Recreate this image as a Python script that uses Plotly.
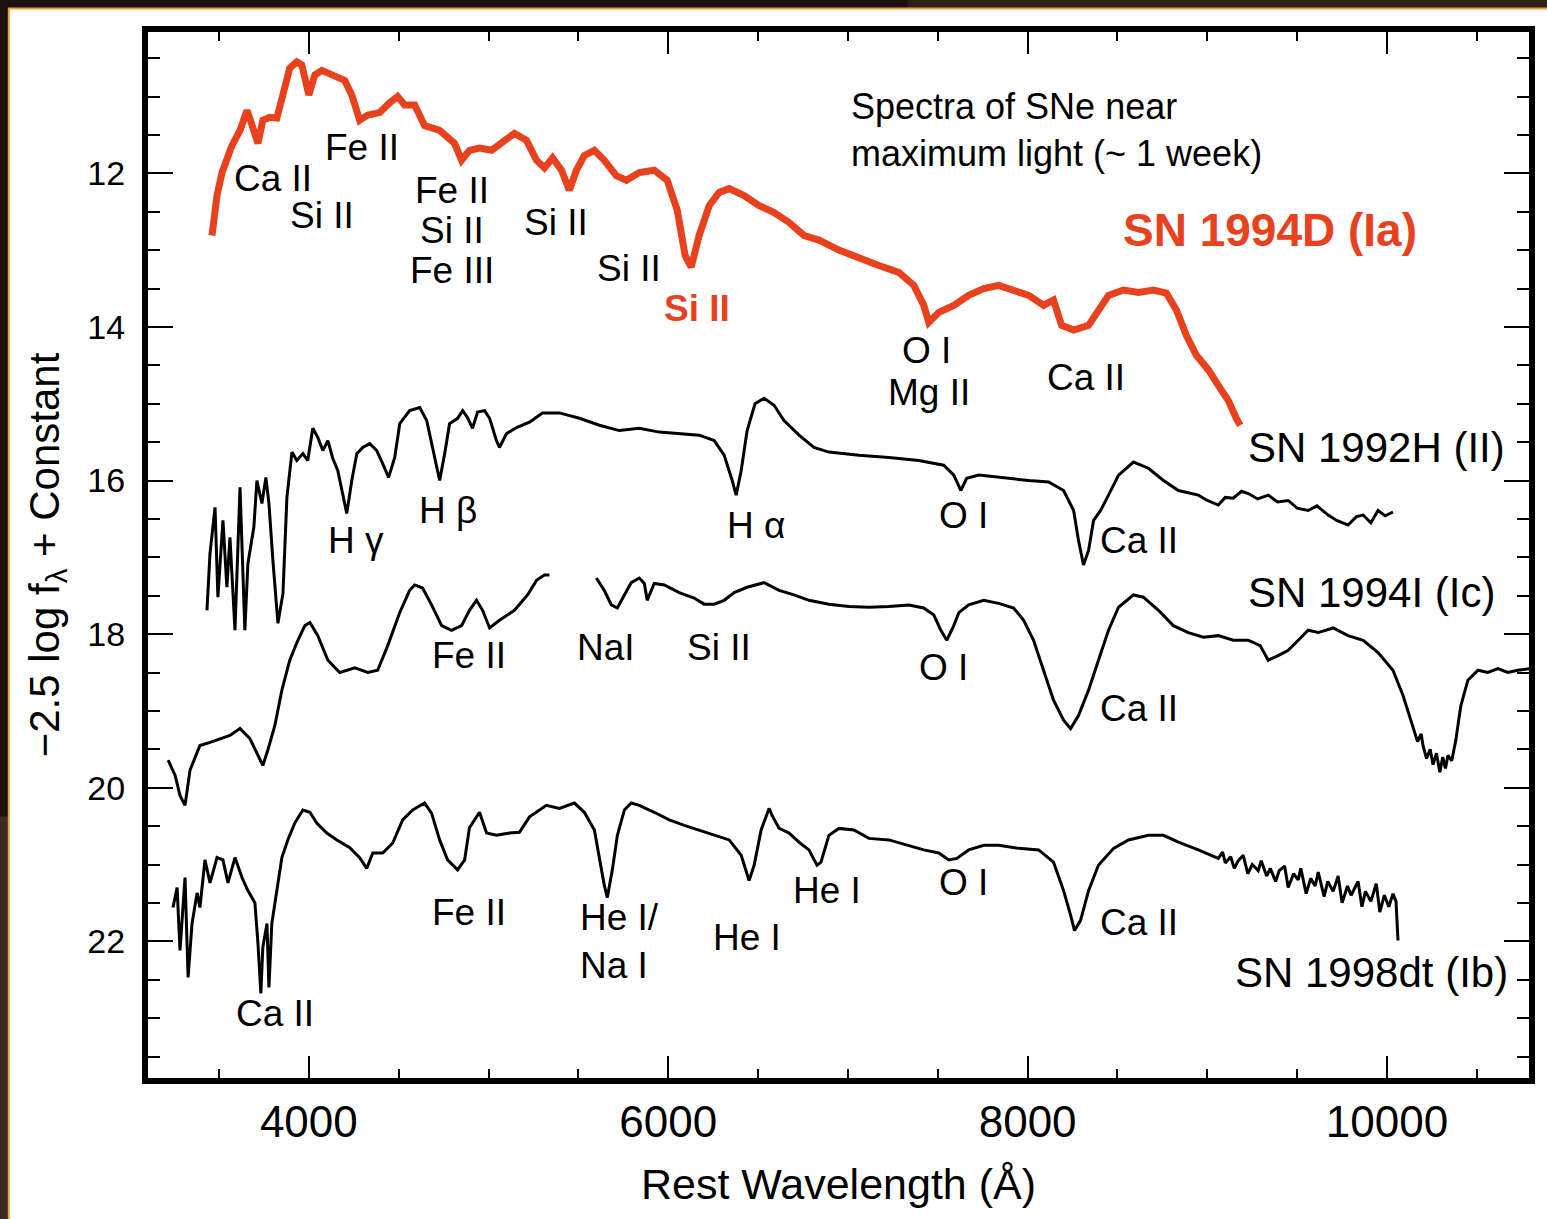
import plotly.graph_objects as go

# ---------------- data (wavelength in Angstrom, -2.5 log f + const) ----------------
ia_wave = [3461, 3489, 3517, 3572, 3617, 3656, 3689, 3717, 3744, 3783, 3822, 3856, 3894, 3933, 3961,
           4000, 4033, 4072, 4144, 4200, 4239, 4283, 4328, 4394, 4450, 4494, 4533, 4589, 4644, 4728,
           4811, 4850, 4894, 4950, 5017, 5089, 5144, 5211, 5267, 5311, 5356, 5406, 5450, 5489, 5533,
           5589, 5644, 5711, 5767, 5839, 5922, 5994, 6050, 6094, 6128, 6172, 6228, 6283, 6339, 6422,
           6506, 6589, 6672, 6756, 6839, 6950, 7061, 7172, 7283, 7367, 7422, 7450, 7506, 7589, 7672,
           7756, 7839, 7922, 8006, 8089, 8144, 8189, 8256, 8339, 8394, 8450, 8533, 8617, 8700, 8772,
           8828, 8883, 8939, 9006, 9061, 9117, 9161, 9183]
ia_mag = [12.81, 12.29, 11.99, 11.64, 11.44, 11.18, 11.41, 11.61, 11.31, 11.27, 11.28, 10.98, 10.63, 10.55, 10.59,
          10.98, 10.72, 10.66, 10.72, 10.79, 10.98, 11.31, 11.24, 11.21, 11.08, 11.00, 11.11, 11.11, 11.38, 11.44,
          11.61, 11.83, 11.70, 11.67, 11.70, 11.57, 11.48, 11.57, 11.83, 11.93, 11.80, 11.96, 12.22, 11.96, 11.77,
          11.70, 11.83, 12.03, 12.09, 11.99, 11.96, 12.09, 12.48, 13.07, 13.22, 12.81, 12.42, 12.25, 12.20, 12.29,
          12.42, 12.51, 12.64, 12.81, 12.87, 13.00, 13.11, 13.20, 13.29, 13.46, 13.72, 13.94, 13.81, 13.72, 13.59,
          13.50, 13.46, 13.52, 13.59, 13.72, 13.65, 13.98, 14.04, 13.98, 13.78, 13.59, 13.52, 13.55, 13.52, 13.56,
          13.78, 14.11, 14.37, 14.56, 14.76, 14.96, 15.19, 15.28]

ii_wave = [3433, 3450, 3478, 3494, 3522, 3544, 3561, 3589, 3617, 3644, 3661, 3694, 3711, 3739, 3761,
           3778, 3800, 3828, 3856, 3878, 3906, 3933, 3967, 3994, 4022, 4050, 4078, 4106, 4133, 4161,
           4211, 4239, 4267, 4300, 4339, 4378, 4411, 4444, 4478, 4506, 4561, 4617, 4656, 4689, 4728,
           4756, 4783, 4828, 4856, 4883, 4911, 4939, 4978, 5006, 5044, 5061, 5100, 5156, 5228, 5300,
           5394, 5506, 5617, 5728, 5839, 5950, 6061, 6172, 6256, 6311, 6356, 6378, 6406, 6439, 6483,
           6533, 6589, 6644, 6728, 6811, 6894, 7061, 7228, 7394, 7533, 7589, 7628, 7661, 7728, 7839,
           8006, 8117, 8200, 8256, 8283, 8311, 8339, 8367, 8406, 8450, 8506, 8589, 8672, 8756, 8839,
           8950, 9000, 9061, 9100, 9144, 9190, 9228, 9280, 9339, 9390, 9450, 9500, 9561, 9610, 9672,
           9720, 9783, 9830, 9867, 9910, 9950, 9990, 10033]
ii_mag = [17.69, 16.95, 16.35, 17.52, 16.52, 17.39, 16.74, 17.95, 16.09, 17.95, 17.08, 16.61, 16.00, 16.30, 15.96,
          16.30, 17.04, 17.86, 17.47, 16.22, 15.63, 15.74, 15.65, 15.74, 15.32, 15.44, 15.61, 15.48, 15.71, 15.87,
          16.43, 16.00, 15.65, 15.57, 15.52, 15.61, 15.78, 15.96, 15.70, 15.26, 15.09, 15.05, 15.22, 15.57, 16.00,
          15.65, 15.26, 15.19, 15.09, 15.18, 15.32, 15.11, 15.09, 15.19, 15.48, 15.57, 15.39, 15.31, 15.24, 15.12,
          15.12, 15.19, 15.28, 15.35, 15.32, 15.37, 15.39, 15.41, 15.48, 15.67, 16.00, 16.19, 15.87, 15.35, 15.00,
          14.93, 15.02, 15.22, 15.41, 15.57, 15.63, 15.67, 15.70, 15.74, 15.80, 15.93, 16.13, 15.97, 15.93, 15.96,
          16.00, 16.02, 16.13, 16.39, 16.78, 17.10, 16.91, 16.52, 16.39, 16.19, 15.93, 15.76, 15.84, 16.00, 16.13,
          16.19, 16.26, 16.32, 16.22, 16.23, 16.14, 16.17, 16.24, 16.19, 16.28, 16.26, 16.36, 16.39, 16.33, 16.45,
          16.52, 16.58, 16.47, 16.45, 16.55, 16.39, 16.46, 16.41]

ic_wave = [3217, 3256, 3283, 3311, 3339, 3394, 3450, 3506, 3561, 3617, 3672, 3717, 3744, 3772, 3811,
           3850, 3894, 3939, 3978, 4006, 4050, 4106, 4172, 4256, 4328, 4383, 4439, 4506, 4561, 4589,
           4633, 4683, 4739, 4794, 4850, 4894, 4933, 4967, 5006, 5061, 5144, 5217, 5267, 5311, 5339,
           None,
           5600, 5644, 5683, 5717, 5756, 5794, 5839, 5867, 5883, 5906, 5922, 5978, 6061, 6144, 6200,
           6256, 6311, 6367, 6439, 6533, 6617, 6700, 6783, 6894, 7006, 7117, 7228, 7339, 7422, 7478,
           7517, 7550, 7589, 7617, 7672, 7756, 7839, 7922, 7978, 8033, 8089, 8144, 8200, 8239, 8283,
           8339, 8394, 8450, 8506, 8589, 8644, 8728, 8811, 8894, 8978, 9061, 9144, 9228, 9294, 9339,
           9394, 9450, 9506, 9561, 9617, 9700, 9783, 9867, 9950, 10033, 10089, 10144, 10170, 10190, 10200,
           10220, 10240, 10256, 10275, 10294, 10310, 10325, 10339, 10360, 10383, 10400, 10411, 10450, 10506, 10561,
           10617, 10672, 10728, 10794]
ic_mag = [19.64, 19.84, 20.10, 20.23, 19.77, 19.45, 19.41, 19.36, 19.32, 19.23, 19.36, 19.58, 19.71, 19.51, 19.19,
          18.73, 18.34, 18.08, 17.89, 17.85, 18.02, 18.34, 18.50, 18.44, 18.50, 18.47, 18.15, 17.72, 17.43, 17.36,
          17.40, 17.62, 17.89, 17.95, 17.89, 17.69, 17.56, 17.69, 17.92, 17.82, 17.69, 17.49, 17.30, 17.23, 17.23,
          None,
          17.27, 17.43, 17.62, 17.66, 17.49, 17.33, 17.27, 17.34, 17.56, 17.43, 17.34, 17.36, 17.46, 17.53, 17.61,
          17.61, 17.56, 17.46, 17.39, 17.33, 17.43, 17.49, 17.56, 17.61, 17.64, 17.65, 17.64, 17.62, 17.66, 17.75,
          17.95, 18.08, 17.89, 17.72, 17.62, 17.56, 17.60, 17.66, 17.82, 18.08, 18.47, 18.86, 19.12, 19.23, 19.06,
          18.73, 18.34, 17.95, 17.65, 17.49, 17.52, 17.69, 17.89, 17.98, 18.04, 18.02, 18.08, 18.08, 18.15, 18.34,
          18.28, 18.21, 18.08, 17.95, 17.98, 17.92, 18.02, 18.08, 18.24, 18.47, 18.80, 19.19, 19.40, 19.30, 19.45,
          19.62, 19.50, 19.70, 19.55, 19.80, 19.60, 19.75, 19.58, 19.65, 19.38, 19.10, 18.93, 18.60, 18.47, 18.50,
          18.45, 18.50, 18.47, 18.45]

ib_wave = [3244, 3267, 3283, 3311, 3328, 3350, 3378, 3394, 3422, 3450, 3489, 3522, 3550, 3589, 3628,
           3661, 3700, 3717, 3733, 3744, 3767, 3778, 3794, 3822, 3850, 3883, 3922, 3967, 4006, 4044,
           4100, 4156, 4228, 4283, 4322, 4356, 4411, 4467, 4522, 4578, 4644, 4683, 4728, 4772, 4828,
           4867, 4894, 4950, 4989, 5044, 5117, 5172, 5228, 5322, 5394, 5478, 5533, 5589, 5617, 5644,
           5661, 5689, 5717, 5756, 5794, 5839, 5922, 6006, 6089, 6172, 6256, 6339, 6406, 6450, 6478,
           6517, 6561, 6578, 6617, 6672, 6728, 6783, 6828, 6850, 6894, 6950, 7033, 7117, 7228, 7339,
           7422, 7506, 7561, 7606, 7672, 7756, 7839, 7950, 8061, 8144, 8200, 8239, 8261, 8294, 8339,
           8394, 8478, 8561, 8672, 8756, 8839, 8950,
           9061, 9085, 9100, 9130, 9150, 9172, 9200, 9225, 9250, 9283, 9300, 9330, 9350, 9380, 9400,
           9430, 9450, 9480, 9506, 9520, 9550, 9575, 9600, 9617, 9650, 9670, 9700, 9728, 9750, 9780,
           9800, 9839, 9860, 9880, 9910, 9940, 9960, 9985, 10010, 10033, 10050, 10061]
ib_mag = [21.56, 21.30, 22.12, 21.17, 22.47, 21.77, 21.37, 21.56, 20.94, 21.24, 20.91, 20.94, 21.24, 20.91, 21.17,
          21.34, 21.50, 22.03, 22.68, 22.08, 21.77, 22.60, 21.77, 21.34, 20.91, 20.68, 20.46, 20.29, 20.32, 20.46,
          20.59, 20.68, 20.78, 20.91, 21.05, 20.85, 20.85, 20.72, 20.42, 20.29, 20.20, 20.33, 20.68, 20.94, 21.07,
          20.94, 20.52, 20.32, 20.59, 20.62, 20.59, 20.58, 20.38, 20.23, 20.27, 20.20, 20.32, 20.55, 20.94, 21.27,
          21.43, 21.07, 20.62, 20.29, 20.20, 20.23, 20.32, 20.42, 20.49, 20.55, 20.62, 20.68, 20.88, 21.21, 21.01,
          20.55, 20.27, 20.36, 20.53, 20.59, 20.71, 20.81, 21.01, 20.97, 20.62, 20.53, 20.55, 20.66, 20.68, 20.75,
          20.81, 20.85, 20.94, 20.92, 20.81, 20.75, 20.75, 20.79, 20.81, 20.97, 21.34, 21.66, 21.86, 21.73, 21.34,
          21.01, 20.79, 20.68, 20.62, 20.62, 20.71, 20.81,
          20.92, 20.84, 20.98, 20.90, 21.05, 20.95, 20.88, 21.12, 21.00, 21.08, 20.95, 21.15, 21.05, 21.22, 21.08,
          21.02, 21.30, 21.12, 21.20, 21.05, 21.38, 21.18, 21.28, 21.10, 21.42, 21.22, 21.35, 21.15, 21.50, 21.28,
          21.40, 21.22, 21.55, 21.35, 21.48, 21.25, 21.62, 21.40, 21.55, 21.38, 21.48, 21.99]

RED = "#e8411e"
FONT = "Liberation Sans, Arial, sans-serif"

fig = go.Figure()
fig.add_trace(go.Scatter(x=ii_wave, y=ii_mag, mode="lines", line=dict(color="black", width=3), showlegend=False))
fig.add_trace(go.Scatter(x=ic_wave, y=ic_mag, mode="lines", line=dict(color="black", width=3),
                         connectgaps=False, showlegend=False))
fig.add_trace(go.Scatter(x=ib_wave, y=ib_mag, mode="lines", line=dict(color="black", width=3), showlegend=False))
fig.add_trace(go.Scatter(x=ia_wave, y=ia_mag, mode="lines", line=dict(color=RED, width=7), showlegend=False))

# ---------------- annotations ----------------
labels = [
    ("Ca II", 3800, 12.07, "black", False),
    ("Si II", 4072, 12.55, "black", False),
    ("Fe II", 4294, 11.67, "black", False),
    ("Fe II", 4794, 12.23, "black", False),
    ("Si II", 4794, 12.75, "black", False),
    ("Fe III", 4794, 13.27, "black", False),
    ("Si II", 5378, 12.64, "black", False),
    ("Si II", 5783, 13.24, "black", False),
    ("Si II", 6161, 13.76, RED, True),
    ("O I", 7439, 14.31, "black", False),
    ("Mg II", 7450, 14.86, "black", False),
    ("Ca II", 8322, 14.66, "black", False),
    ("H γ", 4261, 16.78, "black", False),
    ("H β", 4772, 16.39, "black", False),
    ("H α", 6489, 16.58, "black", False),
    ("O I", 7644, 16.45, "black", False),
    ("Ca II", 8617, 16.78, "black", False),
    ("Fe II", 4894, 18.28, "black", False),
    ("NaI", 5656, 18.18, "black", False),
    ("Si II", 6283, 18.18, "black", False),
    ("O I", 7533, 18.44, "black", False),
    ("Ca II", 8617, 18.97, "black", False),
    ("Fe II", 4894, 21.62, "black", False),
    ("He I", 6439, 21.95, "black", False),
    ("He I", 6883, 21.34, "black", False),
    ("O I", 7644, 21.23, "black", False),
    ("Ca II", 8617, 21.75, "black", False),
    ("Ca II", 3811, 22.94, "black", False),
]
for text, x, y, col, bold in labels:
    fig.add_annotation(x=x, y=y, text=f"<b>{text}</b>" if bold else text, showarrow=False,
                       font=dict(family=FONT, size=37, color=col), xanchor="center", yanchor="middle")

fig.add_annotation(x=5500, y=22.0, text="He I/<br>Na I", showarrow=False, xanchor="left", yanchor="middle",
                   align="left", font=dict(family=FONT, size=37, color="black"))

sn_labels = [
    ("SN 1992H (II)", 9217, 15.57),
    ("SN 1994I (Ic)", 9217, 17.46),
    ("SN 1998dt (Ib)", 9144, 22.40),
]
for text, x, y in sn_labels:
    fig.add_annotation(x=x, y=y, text=text, showarrow=False, xanchor="left", yanchor="middle",
                       font=dict(family=FONT, size=42, color="black"))

fig.add_annotation(x=8517, y=12.74, text="<b>SN 1994D (Ia)</b>", showarrow=False, xanchor="left",
                   yanchor="middle", font=dict(family=FONT, size=46, color=RED))
fig.add_annotation(x=7006, y=11.44, text="Spectra of SNe near<br>maximum light (~ 1 week)", showarrow=False,
                   xanchor="left", yanchor="middle", align="left",
                   font=dict(family=FONT, size=36, color="black"))

# ---------------- frame decoration (dark border) ----------------
shapes = [
    dict(type="rect", xref="paper", yref="paper", x0=-0.2, x1=1.1, y0=1.0229, y1=1.1,
         fillcolor="#1c1012", line=dict(width=0), layer="below"),
    dict(type="rect", xref="paper", yref="paper", x0=-0.2, x1=-0.1012, y0=-0.2, y1=1.1,
         fillcolor="#1c1012", line=dict(width=0), layer="below"),
    dict(type="rect", xref="paper", yref="paper", x0=-0.2, x1=-0.1012, y0=-0.2, y1=0.25,
         fillcolor="#3e2a24", line=dict(width=0), layer="below"),
    dict(type="rect", xref="paper", yref="paper", x0=0.55, x1=1.1, y0=1.0229, y1=1.1,
         fillcolor="#2e2018", line=dict(width=0), layer="below"),
    dict(type="line", xref="paper", yref="paper", x0=-0.1012, x1=1.1, y0=1.0225, y1=1.0225,
         line=dict(color="#f0a030", width=2)),
    dict(type="line", xref="paper", yref="paper", x0=-0.1008, x1=-0.1008, y0=-0.2, y1=1.0225,
         line=dict(color="#f0a030", width=2)),
]

fig.update_layout(
    width=1547, height=1219,
    margin=dict(l=148, r=16, t=32, b=141),
    paper_bgcolor="white", plot_bgcolor="white",
    font=dict(family=FONT, color="black"),
    shapes=shapes,
    xaxis=dict(range=[3105, 10790], showgrid=False, zeroline=False,
               tick0=0, dtick=2000, tickformat="d", ticks="inside", ticklen=22, tickwidth=2, tickcolor="black",
               minor=dict(dtick=500, tick0=0, ticks="inside", ticklen=9, tickwidth=2, tickcolor="black",
                          showgrid=False),
               showline=True, linewidth=6, linecolor="black", mirror="ticks",
               tickfont=dict(family=FONT, size=44), ticklabelstandoff=0,
               title=dict(text="Rest Wavelength (Å)", font=dict(family=FONT, size=43), standoff=26)),
    yaxis=dict(range=[23.78, 10.16], showgrid=False, zeroline=False,
               tick0=0, dtick=2, ticks="inside", ticklen=25, tickwidth=2, tickcolor="black",
               minor=dict(dtick=0.5, tick0=0, ticks="inside", ticklen=12, tickwidth=2, tickcolor="black",
                          showgrid=False),
               showline=True, linewidth=6, linecolor="black", mirror="ticks",
               tickfont=dict(family=FONT, size=34), ticklabelstandoff=10,
               title=dict(text="−2.5 log f<sub>λ</sub> + Constant", font=dict(family=FONT, size=42),
                          standoff=17)),
)

fig.write_html("out.html", config={"displayModeBar": False},
               post_script="document.body.style.margin='0';document.body.style.overflow='hidden';")
